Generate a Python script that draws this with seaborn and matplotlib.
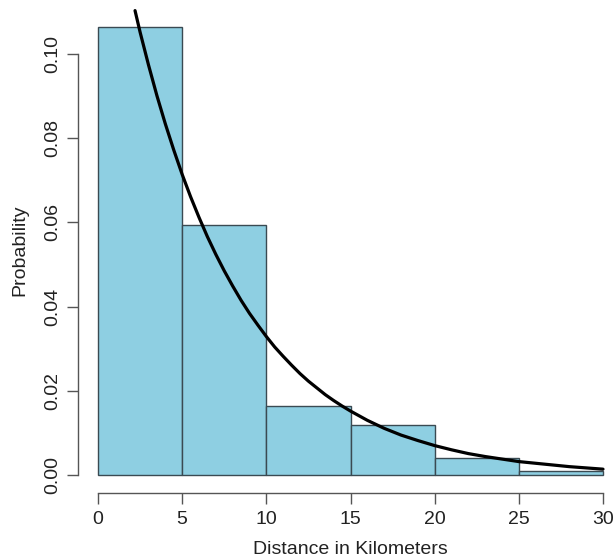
import numpy as np
import pandas as pd
import matplotlib
matplotlib.use("Agg")
import matplotlib.pyplot as plt
import seaborn as sns

# histogram bins (km) and probability per bin
bin_edges = [0, 5, 10, 15, 20, 25, 30]
bin_probs = [0.1064, 0.0594, 0.0164, 0.0119, 0.0041, 0.0010]

# fitted density curve
curve_x = [2.2, 2.5, 3, 3.5, 4, 4.5, 5, 5.5, 6, 6.5, 7, 7.5, 8, 8.5, 9, 9.5,
           10, 10.5, 11, 11.5, 12, 12.5, 13, 13.5, 14, 14.5, 15, 16, 17, 18,
           19, 20, 21, 22, 23, 24, 25, 26, 27, 28, 29, 30]
curve_y = [0.1103, 0.1052, 0.0974, 0.0901, 0.0834, 0.0772, 0.0714, 0.0661,
           0.0612, 0.0566, 0.0524, 0.0485, 0.0449, 0.0415, 0.0384, 0.0356,
           0.0329, 0.0304, 0.0282, 0.0261, 0.0241, 0.0223, 0.0207, 0.0191,
           0.0177, 0.0164, 0.0152, 0.0130, 0.0111, 0.0095, 0.0082, 0.0070,
           0.0060, 0.0051, 0.0044, 0.0038, 0.0032, 0.0028, 0.0024, 0.0020,
           0.0017, 0.0014]

x_ticks = [0, 5, 10, 15, 20, 25, 30]
y_ticks = [0.00, 0.02, 0.04, 0.06, 0.08, 0.10]

sns.set_style("white")
plt.rcParams["font.family"] = ["Liberation Sans", "DejaVu Sans"]

fig = plt.figure(figsize=(6.14, 5.6), dpi=100)
ax = fig.add_axes([77.8 / 614, 1 - 493 / 560, 545.4 / 614, 484.5 / 560])

mids = [(a + b) / 2 for a, b in zip(bin_edges[:-1], bin_edges[1:])]
hist_df = pd.DataFrame({"dist": mids, "prob": bin_probs})
sns.histplot(data=hist_df, x="dist", weights="prob", bins=bin_edges,
             stat="count", color="#8ecfe2", alpha=1.0, edgecolor="#3a4a52",
             linewidth=1.0, ax=ax)

curve_df = pd.DataFrame({"x": curve_x, "y": curve_y})
sns.lineplot(data=curve_df, x="x", y="y", color="black", linewidth=2.3, ax=ax)

ax.set_xlim(-1.2, 31.2)
ax.set_ylim(-0.00426, 0.1108)

for side in ["top", "right"]:
    ax.spines[side].set_visible(False)
for side in ["left", "bottom"]:
    ax.spines[side].set_color("#555555")
    ax.spines[side].set_linewidth(1.0)
ax.spines["left"].set_bounds(0, 0.10)
ax.spines["bottom"].set_bounds(0, 30)

ax.set_xticks(x_ticks)
ax.set_xticklabels([str(t) for t in x_ticks])
ax.set_yticks(y_ticks)
ax.set_yticklabels([f"{t:.2f}" for t in y_ticks], rotation=90, va="center")
ax.tick_params(axis="both", direction="out", length=8, width=1.0,
               color="#555555", labelsize=14, labelcolor="#222222",
               bottom=True, left=True)
ax.tick_params(axis="x", pad=5)
ax.tick_params(axis="y", pad=4)

ax.set_xlabel("Distance in Kilometers", fontsize=14, color="#222222")
ax.set_ylabel("Probability", fontsize=14, color="#222222")
ax.xaxis.set_label_coords(0.5, (493 - 550) / 484.5)
ax.xaxis.label.set_va("center")
ax.yaxis.set_label_coords((20 - 77.8) / 545.4, 0.5)
ax.yaxis.label.set_va("center")

fig.savefig("out.png", dpi=100, facecolor="white")
plt.close(fig)
